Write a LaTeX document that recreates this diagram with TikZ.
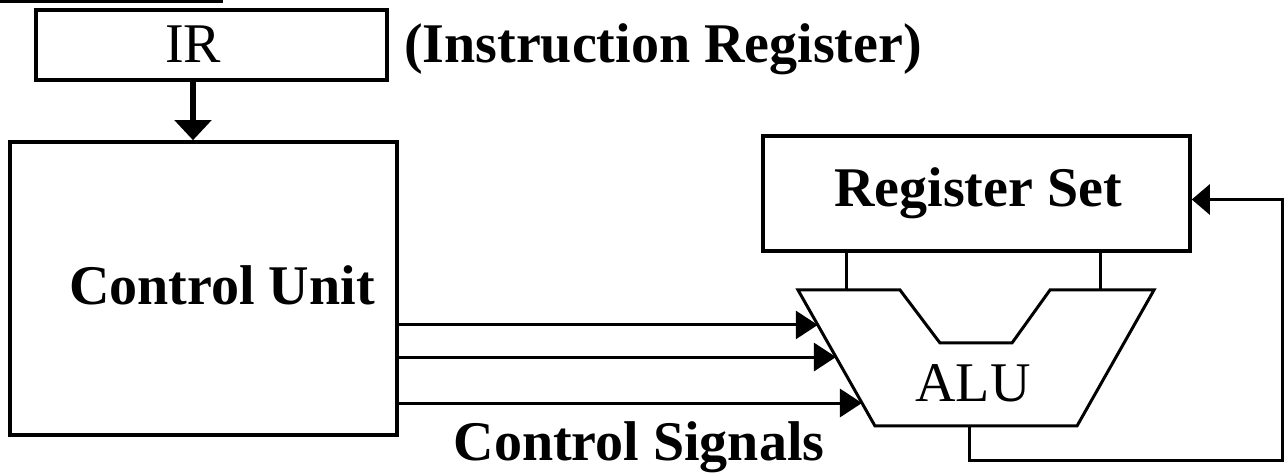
\documentclass[tikz,border=0pt]{standalone}
\usepackage{fontspec}
\setmainfont{Liberation Serif}
\usetikzlibrary{arrows.meta,calc}
\tikzset{
  box/.style={draw,line width=1.8pt,inner sep=0pt},
  lbl/.style={inner sep=0pt,anchor=base,font=\fontsize{28}{32}\selectfont\bfseries},
  plainlbl/.style={lbl,font=\fontsize{28}{32}\selectfont},
  wire/.style={line width=1.5pt},
  sig/.style={wire,-{Triangle[length=11pt,width=14pt]}}
}

\begin{document}
\begin{tikzpicture}[x=0.5pt,y=-0.5pt]
   \useasboundingbox (0,0) rectangle (1285,475);
   \fill (0,0) rectangle (223,3);
   % boxes
   \node[box,minimum width=175.5pt,minimum height=35pt] (ir) at (211.5,45) {};
   \node[box,minimum width=193.5pt,minimum height=146.5pt] (cu) at (203.5,288.5) {};
   \node[box,minimum width=213.5pt,minimum height=57.5pt] (rs) at (976.5,193.5) {};
   % texts
   \node[plainlbl] (irtext) at (193,63) {IR};
   \node[lbl] (irname) at (663,63) {(Instruction Register)};
   \node[lbl] (cutext) at (222,305) {Control Unit};
   \node[lbl] (rstext) at (978,207) {Register Set};
   \node[plainlbl] (alutext) at (973,402) {ALU};
   \node[lbl] (sigtext) at (639,460) {Control Signals};
   % ALU outline
   \coordinate (tl) at (798,290);
   \coordinate (n1) at (900,290);
   \coordinate (n2) at (940,343);
   \coordinate (n3) at (1012,343);
   \coordinate (n4) at (1050,290);
   \coordinate (tr) at (1154,290);
   \coordinate (br) at (1077,426);
   \coordinate (bl) at (875,426);
   \draw[wire] (tl) -- (n1) -- (n2) -- (n3) -- (n4) -- (tr) -- (br) -- (bl) -- cycle;
   % register set to ALU
   \coordinate (in1) at (846,290);
   \coordinate (in2) at (1100,290);
   \draw[wire] (rs.south -| in1) -- (in1);
   \draw[wire] (rs.south -| in2) -- (in2);
   % IR to control unit
   \draw[line width=3pt,-{Triangle[length=10pt,width=18pt]}] (ir.south -| irtext) -- (cu.north -| irtext);
   % control signals
   \foreach \t/\n in {0.257/1,0.493/2,0.831/3}
      \coordinate (s\n) at ($(tl)!\t!(bl)$);
   \foreach \n in {1,2,3}
      \draw[sig] (cu.east |- s\n) -- (s\n);
   % ALU result back to register set
   \coordinate (out) at (969,426);
   \coordinate (fb) at (1282,461);
   \coordinate (rsin) at ([yshift=-3pt]rs.east);
   \draw[wire,-{Triangle[length=9pt,width=15pt]}] (out) |- (fb) |- (rsin);
\end{tikzpicture}
\end{document}
